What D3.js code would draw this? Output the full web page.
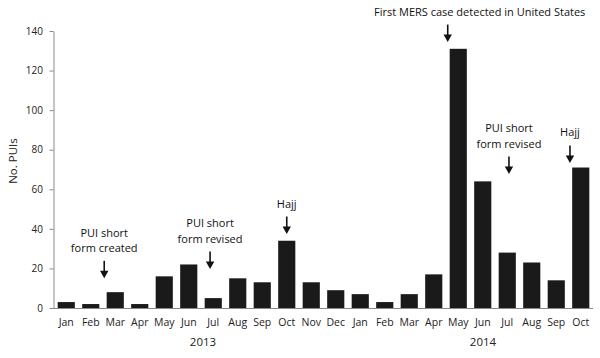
<!DOCTYPE html>
<html><head><meta charset="utf-8">
<script src="https://cdn.jsdelivr.net/npm/d3@7"></script>
<style>body{margin:0;background:#fff}svg{display:block;font-family:"Open Sans",sans-serif}</style>
</head><body><svg id="c" width="600" height="358"></svg>
<script>
const months = ["Jan","Feb","Mar","Apr","May","Jun","Jul","Aug","Sep","Oct","Nov","Dec","Jan","Feb","Mar","Apr","May","Jun","Jul","Aug","Sep","Oct"];
const years = ["2013","2013","2013","2013","2013","2013","2013","2013","2013","2013","2013","2013","2014","2014","2014","2014","2014","2014","2014","2014","2014","2014"];
const values = [3,2,8,2,16,22,5,15,13,34,13,9,7,3,7,17,131,64,28,23,14,71];
const yTicks = [0,20,40,60,80,100,120,140];
const yearLabels = ["2013","2014"];
const yTitle = "No. PUIs";
const annoText = [["PUI short","form created"],["PUI short","form revised"],["Hajj"],["First MERS case detected in United States"],["PUI short","form revised"],["Hajj"]];
const annoIndex = [2,6,9,16,18,21];          // month the arrow refers to
const annoShift = [-0.45,-0.13,0,-0.43,0.07,-0.44]; // arrow offset in band steps
const annoTip = [15,19.7,37.4,134.4,67.7,73.3];     // arrow tip level (data units)
const annoTextShift = [0,0,0,32,0,0];

const svg = d3.select("#c");
const idx = d3.range(months.length);
const x = d3.scaleBand().domain(idx).range([54,593]).paddingInner(0.3).paddingOuter(0.15);
const y = d3.scaleLinear().domain([0,140]).range([308,31]);

svg.selectAll("rect.bar").data(idx).join("rect").attr("class","bar")
  .attr("x",i=>x(i)).attr("width",x.bandwidth())
  .attr("y",i=>y(values[i])).attr("height",i=>y(0)-y(values[i]))
  .attr("fill","#1a1a1a");

const ya = svg.append("g").attr("transform","translate(53.5,0)")
  .call(d3.axisLeft(y).tickValues(yTicks).tickSize(4).tickSizeOuter(0));
ya.select(".domain").attr("stroke","#8a8a8a");
ya.selectAll(".tick line").attr("stroke","#8a8a8a");
ya.selectAll(".tick text").attr("font-size",10).attr("fill","#222").attr("font-family","Open Sans").attr("dx",-3.5);

const xa = svg.append("g").attr("transform","translate(0,308)")
  .call(d3.axisBottom(x).tickFormat(i=>months[i]).tickSize(0).tickSizeOuter(0));
xa.select(".domain").attr("stroke","#8a8a8a").attr("d","M53,0.5H593");
xa.selectAll(".tick text").attr("font-size",10.5).attr("fill","#222").attr("font-family","Open Sans").attr("dy","1.4em");

// year labels
yearLabels.forEach(yr=>{
  const ii = idx.filter(i=>years[i]===yr);
  const cx = (x(ii[0])+x(ii[ii.length-1])+x.bandwidth())/2;
  svg.append("text").attr("x",cx + (yr==="2013"?2:12.5)).attr("y",346).attr("text-anchor","middle")
    .attr("font-size",11.5).attr("fill","#222").text(yr);
});

svg.append("text").attr("transform","translate(16.5,161) rotate(-90)").attr("text-anchor","middle")
  .attr("font-size",11.5).attr("fill","#222").text(yTitle);

// annotations
annoText.forEach((lines,k)=>{
  const i = annoIndex[k];
  const ax = x(i)+x.bandwidth()/2 + annoShift[k]*x.step();
  const tip = y(annoTip[k]);
  const top = tip-17.5;
  svg.append("line").attr("x1",ax).attr("x2",ax).attr("y1",top).attr("y2",tip-6)
    .attr("stroke","#111").attr("stroke-width",1.6);
  svg.append("path").attr("d",`M${ax-4.2},${tip-7.5}L${ax+4.2},${tip-7.5}L${ax},${tip}Z`).attr("fill","#111");
  const n = lines.length;
  lines.forEach((t,j)=>{
    svg.append("text").attr("x",ax+annoTextShift[k]).attr("y",top-9-(n-1-j)*15.2).attr("text-anchor","middle")
      .attr("font-size",11).attr("fill","#111").text(t);
  });
});
</script></body></html>
